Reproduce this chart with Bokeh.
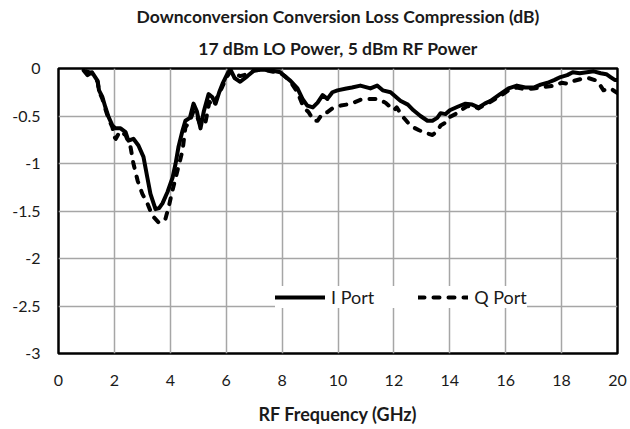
from bokeh.plotting import figure
from bokeh.models import FixedTicker, Range1d, Title
from bokeh.embed import file_html
from bokeh.resources import INLINE

# ---- data ----
i_freq = [0.9, 1.04, 1.2, 1.4, 1.45, 1.57, 1.68, 1.79, 1.93, 2.04,
          2.22, 2.4, 2.5, 2.68, 2.86, 3.04, 3.18, 3.29, 3.47, 3.6,
          3.72, 3.9, 4.08, 4.19, 4.29, 4.44, 4.54, 4.7, 4.83, 4.95,
          5.08, 5.2, 5.37, 5.5, 5.62, 5.75, 5.87, 6.05, 6.15, 6.3,
          6.5, 6.76, 7.0, 7.3, 7.6, 7.94, 8.05, 8.3, 8.55, 8.73,
          8.9, 9.1, 9.27, 9.45, 9.62, 9.8, 9.98, 10.3, 10.5, 10.8,
          11.16, 11.4, 11.6, 11.88, 12.23, 12.5, 12.7, 12.95, 13.2, 13.38,
          13.55, 13.67, 13.85, 14.0, 14.3, 14.56, 14.8, 15.03, 15.25, 15.46,
          15.8, 16.1, 16.4, 16.7, 17.0, 17.25, 17.5, 17.75, 17.96, 18.2,
          18.4, 18.65, 18.9, 19.15, 19.4, 19.6, 19.75, 19.9, 20.0]
i_loss = [-0.02, -0.07, -0.04, -0.13, -0.23, -0.3, -0.41, -0.51, -0.6, -0.63,
          -0.63, -0.67, -0.76, -0.74, -0.81, -0.93, -1.15, -1.32, -1.48, -1.47,
          -1.42, -1.3, -1.15, -1.0, -0.83, -0.65, -0.55, -0.52, -0.37, -0.45,
          -0.63, -0.45, -0.27, -0.3, -0.37, -0.25, -0.16, -0.05, -0.01, -0.1,
          -0.14, -0.08, -0.02, -0.01, -0.02, -0.04, -0.07, -0.13, -0.21, -0.32,
          -0.39, -0.41, -0.36, -0.28, -0.32, -0.25, -0.23, -0.21, -0.2, -0.18,
          -0.21, -0.18, -0.23, -0.25, -0.34, -0.38, -0.44, -0.5, -0.55, -0.55,
          -0.52, -0.47, -0.48, -0.44, -0.4, -0.37, -0.38, -0.41, -0.37, -0.34,
          -0.27, -0.21, -0.18, -0.2, -0.2, -0.17, -0.15, -0.12, -0.09, -0.07,
          -0.04, -0.05, -0.04, -0.03, -0.05, -0.06, -0.09, -0.12, -0.12]

q_freq = [1.0, 1.2, 1.4, 1.45, 1.57, 1.68, 1.79, 1.93, 2.0, 2.05,
          2.2, 2.4, 2.58, 2.68, 2.83, 3.0, 3.18, 3.36, 3.58, 3.7,
          3.83, 3.94, 4.08, 4.26, 4.44, 4.54, 4.7, 4.83, 4.95, 5.08,
          5.25, 5.4, 5.55, 5.7, 5.85, 6.0, 6.15, 6.3, 6.5, 6.76,
          7.0, 7.3, 7.6, 7.94, 8.1, 8.3, 8.55, 8.77, 8.95, 9.13,
          9.27, 9.45, 9.62, 9.8, 10.1, 10.3, 10.55, 10.8, 11.05, 11.4,
          11.7, 12.0, 12.1, 12.3, 12.5, 12.7, 12.9, 13.15, 13.38, 13.55,
          13.67, 13.85, 14.0, 14.2, 14.4, 14.6, 14.8, 15.03, 15.25, 15.46,
          15.8, 16.1, 16.4, 16.7, 17.0, 17.25, 17.5, 17.75, 18.0, 18.2,
          18.45, 18.7, 18.95, 19.28, 19.5, 19.75, 20.0]
q_loss = [-0.03, -0.05, -0.14, -0.24, -0.32, -0.43, -0.53, -0.62, -0.72, -0.74,
          -0.66, -0.7, -0.83, -1.0, -1.18, -1.32, -1.42, -1.55, -1.62, -1.62,
          -1.58, -1.46, -1.28, -1.07, -0.86, -0.62, -0.55, -0.45, -0.5, -0.6,
          -0.58, -0.35, -0.4, -0.28, -0.2, -0.1, -0.03, -0.05, -0.08, -0.06,
          -0.02, -0.01, -0.03, -0.05, -0.08, -0.14, -0.25, -0.41, -0.46, -0.55,
          -0.55, -0.47, -0.46, -0.42, -0.39, -0.38, -0.36, -0.33, -0.32, -0.32,
          -0.36, -0.44, -0.41, -0.5, -0.57, -0.62, -0.65, -0.68, -0.7, -0.66,
          -0.6, -0.57, -0.51, -0.48, -0.44, -0.4, -0.39, -0.42, -0.38, -0.35,
          -0.29, -0.23, -0.2, -0.22, -0.21, -0.2, -0.19, -0.18, -0.15, -0.16,
          -0.13, -0.11, -0.1, -0.13, -0.23, -0.21, -0.26]

x_ticks = [0, 2, 4, 6, 8, 10, 12, 14, 16, 18, 20]
y_ticks = [-3, -2.5, -2, -1.5, -1, -0.5, 0]
y_tick_labels = ["-3", "-2.5", "-2", "-1.5", "-1", "-0.5", "0"]

title_line1 = "Downconversion Conversion Loss Compression (dB)"
title_line2 = "17 dBm LO Power, 5 dBm RF Power"
x_label = "RF Frequency (GHz)"

FONT = "Lato"
TXT = "#1a1a1a"

p = figure(width=630, height=429, output_backend="svg", toolbar_location=None,
           x_range=Range1d(x_ticks[0], x_ticks[-1]),
           y_range=Range1d(y_ticks[0], y_ticks[-1]),
           min_border_left=58, min_border_right=13, min_border_top=68, min_border_bottom=76)
p.background_fill_color = "white"
p.border_fill_color = "white"
p.outline_line_color = "black"
p.outline_line_width = 2.5

p.line(i_freq, i_loss, line_color="black", line_width=4, line_join="round",
       line_cap="round", legend_label="I Port")
p.line(q_freq, q_loss, line_color="black", line_width=4, line_dash="6 9",
       line_join="round", line_cap="round", legend_label="Q Port")

for ax in (p.xaxis[0], p.yaxis[0]):
    ax.axis_line_color = None
    ax.major_tick_line_color = None
    ax.minor_tick_line_color = None
    ax.major_label_text_font = FONT
    ax.major_label_text_font_size = "16px"
    ax.major_label_text_color = TXT

p.xaxis.ticker = FixedTicker(ticks=x_ticks)
p.yaxis.ticker = FixedTicker(ticks=y_ticks)
p.yaxis.major_label_overrides = {t: l for t, l in zip(y_ticks, y_tick_labels)}
p.xaxis.major_label_standoff = 15
p.yaxis.major_label_standoff = 12
p.xaxis.axis_label = x_label
p.xaxis.axis_label_text_font = FONT
p.xaxis.axis_label_text_font_style = "bold"
p.xaxis.axis_label_text_font_size = "18px"
p.xaxis.axis_label_text_color = TXT
p.xaxis.axis_label_standoff = 14

p.xgrid.grid_line_color = "#a6a6a6"
p.ygrid.grid_line_color = "#a6a6a6"
p.xgrid.grid_line_width = 1.5
p.ygrid.grid_line_width = 1.5

p.add_layout(Title(text=title_line2, align="center", text_font=FONT,
                   text_font_size="17.5px", text_font_style="bold",
                   text_color=TXT, standoff=20), "above")
p.add_layout(Title(text=title_line1, align="center", text_font=FONT,
                   text_font_size="17.5px", text_font_style="bold",
                   text_color=TXT, standoff=-3), "above")

leg = p.legend[0]
leg.orientation = "horizontal"
leg.location = (217, 45)
leg.background_fill_color = "white"
leg.background_fill_alpha = 1.0
leg.border_line_color = None
leg.label_text_font = FONT
leg.label_text_font_size = "18px"
leg.label_text_color = TXT
leg.glyph_width = 50
leg.glyph_height = 20
leg.label_standoff = 6
leg.spacing = 44
leg.padding = 18
leg.margin = 0
leg.label_height = 20

open("out.html", "w").write(file_html(p, INLINE))
